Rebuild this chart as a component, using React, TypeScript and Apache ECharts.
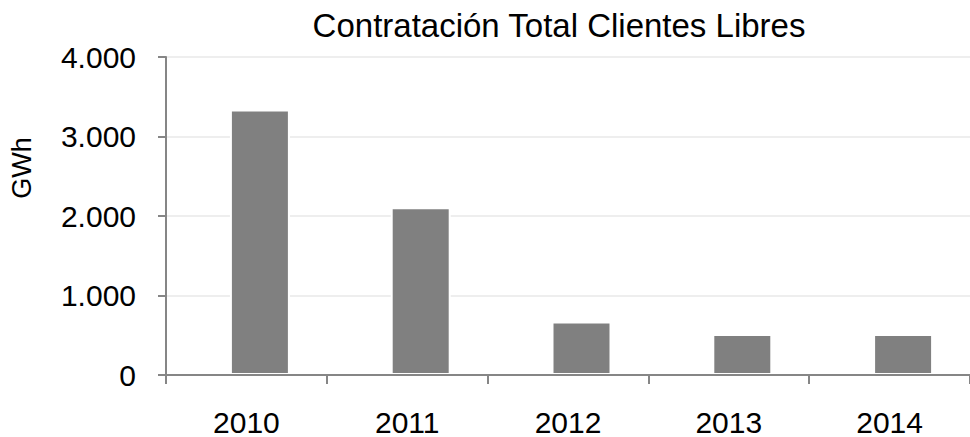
import React, { useEffect, useRef } from "react";
import * as echarts from "echarts";

const categories = ["2010", "2011", "2012", "2013", "2014"];
const values = [3340, 2110, 672, 517, 517];
const yTicks = { min: 0, max: 4000, interval: 1000 };
const titleText = "Contratación Total Clientes Libres";
const yName = "GWh";

const FONT = "'Liberation Sans', Arial, sans-serif";

function fmt(v: number): string {
  return String(Math.round(v)).replace(/\B(?=(\d{3})+(?!\d))/g, ".");
}

export default function App() {
  const ref = useRef<HTMLDivElement>(null);
  useEffect(() => {
    document.body.style.margin = "0";
    if (!ref.current) return;
    const chart = echarts.init(ref.current, null, { renderer: "svg" });
    chart.setOption({
      animation: false,
      backgroundColor: "#ffffff",
      textStyle: { fontFamily: FONT },
      grid: { left: 166, top: 57, width: 811.5, height: 318.5, containLabel: false },
      graphic: [
        {
          type: "text",
          x: 559,
          y: 25,
          style: {
            text: titleText,
            fontFamily: FONT,
            fontSize: 33,
            fill: "#000",
            textAlign: "center",
            textVerticalAlign: "middle",
          },
        },
        {
          type: "text",
          x: 21.5,
          y: 168,
          rotation: Math.PI / 2,
          style: {
            text: yName,
            fontFamily: FONT,
            fontSize: 27,
            fill: "#000",
            textAlign: "center",
            textVerticalAlign: "middle",
          },
        },
      ],
      xAxis: {
        type: "category",
        data: categories,
        z: 3,
        axisLine: { show: true, lineStyle: { color: "#868686", width: 2 } },
        axisTick: { show: true, length: 9, lineStyle: { color: "#868686", width: 2 } },
        axisLabel: { color: "#000", fontSize: 30, fontFamily: FONT, margin: 32 },
        splitLine: { show: false },
      },
      yAxis: {
        type: "value",
        min: yTicks.min,
        max: yTicks.max,
        interval: yTicks.interval,
        axisLine: { show: true, lineStyle: { color: "#868686", width: 2 } },
        axisTick: { show: true, length: 8, lineStyle: { color: "#868686", width: 2 } },
        axisLabel: { color: "#000", fontSize: 30, fontFamily: FONT, margin: 30, formatter: (v: number) => fmt(v) },
        splitLine: { show: true, lineStyle: { color: "#eeeeee", width: 2 } },
      },
      series: [
        {
          type: "bar",
          data: categories.map(() => null),
          barWidth: 60,
          barGap: "-55%",
          itemStyle: { color: "transparent" },
          silent: true,
        },
        {
          type: "bar",
          data: values,
          barWidth: 60,
          barGap: "-55%",
          itemStyle: { color: "#808080", borderColor: "#ffffff", borderWidth: 2 },
        },
      ],
    });
    return () => chart.dispose();
  }, []);
  return <div ref={ref} style={{ width: 970, height: 437 }} />;
}
